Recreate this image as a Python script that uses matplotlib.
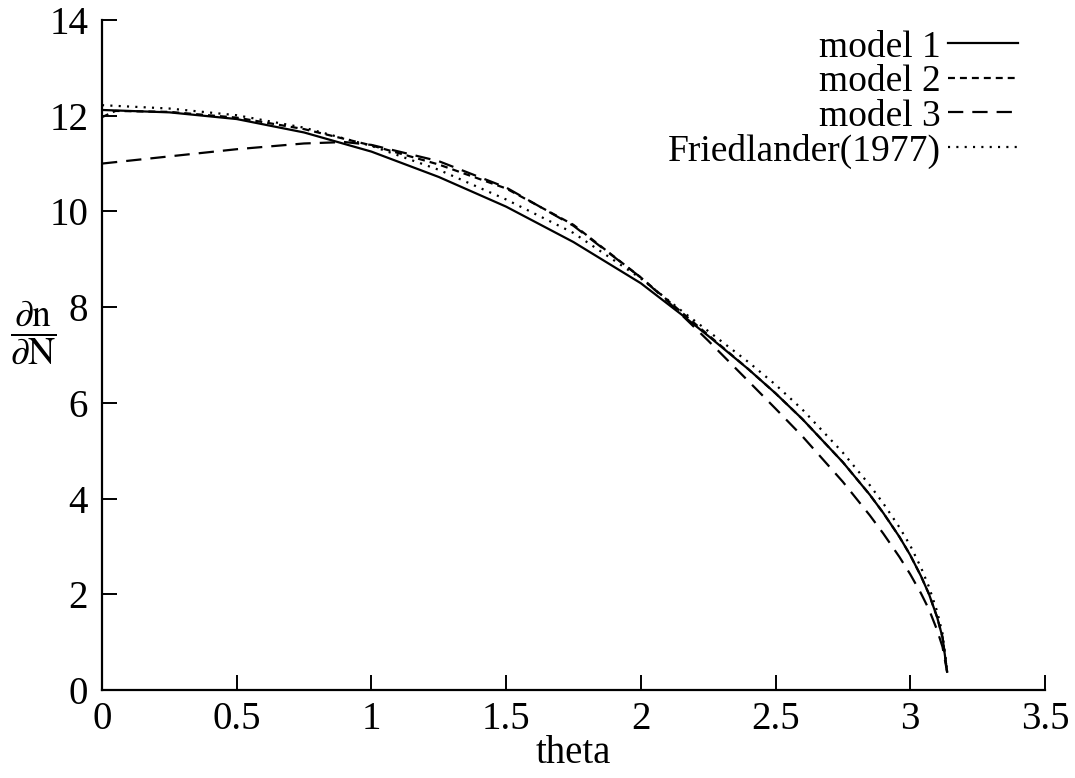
import matplotlib
matplotlib.use("Agg")
import matplotlib.pyplot as plt

# values
theta = [0, 0.25, 0.5, 0.75, 1.0, 1.25, 1.5, 1.75, 2.0, 2.15, 2.25, 2.4, 2.5, 2.6,
         2.75, 2.85, 2.9, 2.96, 3.0, 3.04, 3.07, 3.1, 3.12, 3.137]
model1 = [12.12, 12.07, 11.93, 11.65, 11.25, 10.72, 10.10, 9.36, 8.50, 7.85, 7.40, 6.70, 6.20, 5.66,
          4.76, 4.08, 3.70, 3.20, 2.82, 2.38, 2.00, 1.52, 1.10, 0.38]
friedlander = [12.22, 12.15, 12.01, 11.75, 11.37, 10.87, 10.25, 9.55, 8.60, 7.93, 7.50, 6.85, 6.38, 5.86,
               4.96, 4.28, 3.90, 3.40, 3.02, 2.56, 2.15, 1.64, 1.18, 0.40]

theta2 = [0, 0.05, 0.25, 0.5, 0.75, 1.0, 1.25, 1.5, 1.75, 2.0, 2.15, 2.25, 2.4, 2.5, 2.6,
          2.75, 2.85, 2.9, 2.96, 3.0, 3.04, 3.07, 3.1, 3.12, 3.137]
model2 = [11.97, 12.10, 12.08, 11.96, 11.72, 11.38, 10.98, 10.48, 9.72, 8.62, 7.90, 7.42, 6.70, 6.20, 5.66,
          4.76, 4.08, 3.70, 3.20, 2.82, 2.38, 2.00, 1.52, 1.10, 0.38]

theta3 = [0, 0.25, 0.5, 0.75, 0.9, 1.0, 1.25, 1.5, 1.75, 2.0, 2.1, 2.25, 2.4, 2.5, 2.6,
          2.75, 2.85, 2.9, 2.96, 3.0, 3.04, 3.07, 3.1, 3.12, 3.137]
model3 = [11.00, 11.15, 11.30, 11.42, 11.45, 11.39, 11.05, 10.50, 9.70, 8.62, 8.12, 7.30, 6.45, 5.88, 5.30,
          4.35, 3.65, 3.27, 2.78, 2.42, 2.02, 1.68, 1.25, 0.90, 0.38]

xticks = [0, 0.5, 1, 1.5, 2, 2.5, 3, 3.5]
xtick_labels = ["0", "0.5", "1", "1.5", "2", "2.5", "3", "3.5"]
yticks = [0, 2, 4, 6, 8, 10, 12, 14]

plt.rcParams['font.family'] = ['Liberation Serif', 'DejaVu Serif']
plt.rcParams['mathtext.fontset'] = 'stix'
plt.rcParams['lines.scale_dashes'] = False

fig = plt.figure(figsize=(10.75, 7.78), dpi=100)
ax = fig.add_axes([0.0949, 0.1131, 0.972 - 0.0949, 0.9743 - 0.1131])

lw = 1.6
ax.plot(theta, model1, color='black', lw=lw, linestyle='-', label='model 1')
ax.plot(theta2, model2, color='black', lw=lw, linestyle=(0, (5, 3.6)), label='model 2')
ax.plot(theta3, model3, color='black', lw=lw, linestyle=(0, (11, 6.5)), label='model 3')
ax.plot(theta, friedlander, color='black', lw=lw, linestyle=(0, (1.5, 4.5)), label='Friedlander(1977)')

ax.set_xlim(0, 3.5)
ax.set_ylim(0, 14)
ax.set_xticks(xticks)
ax.set_xticklabels(xtick_labels)
ax.set_yticks(yticks)

for s in ['top', 'right']:
    ax.spines[s].set_visible(False)
for s in ['left', 'bottom']:
    ax.spines[s].set_linewidth(1.6)

ax.tick_params(direction='in', length=11, width=1.4, labelsize=28)
ax.tick_params(axis='x', pad=8)
ax.tick_params(axis='y', pad=10)

ax.set_xlabel('theta', fontsize=28, labelpad=-2)
ax.set_ylabel(r'$\dfrac{\partial \mathrm{n}}{\partial \mathrm{N}}$', fontsize=27,
              rotation=0, va='center', ha='center')
ax.yaxis.set_label_coords(-0.073, 0.535)

leg = ax.legend(loc='upper right', bbox_to_anchor=(0.971, 0.985), frameon=False,
                markerfirst=False, fontsize=27, handlelength=1.85, handletextpad=0.2,
                labelspacing=0.0, borderpad=0.0, borderaxespad=0.0)
for t in leg.get_texts():
    t.set_ha('right')

fig.savefig('out.png', dpi=100)
